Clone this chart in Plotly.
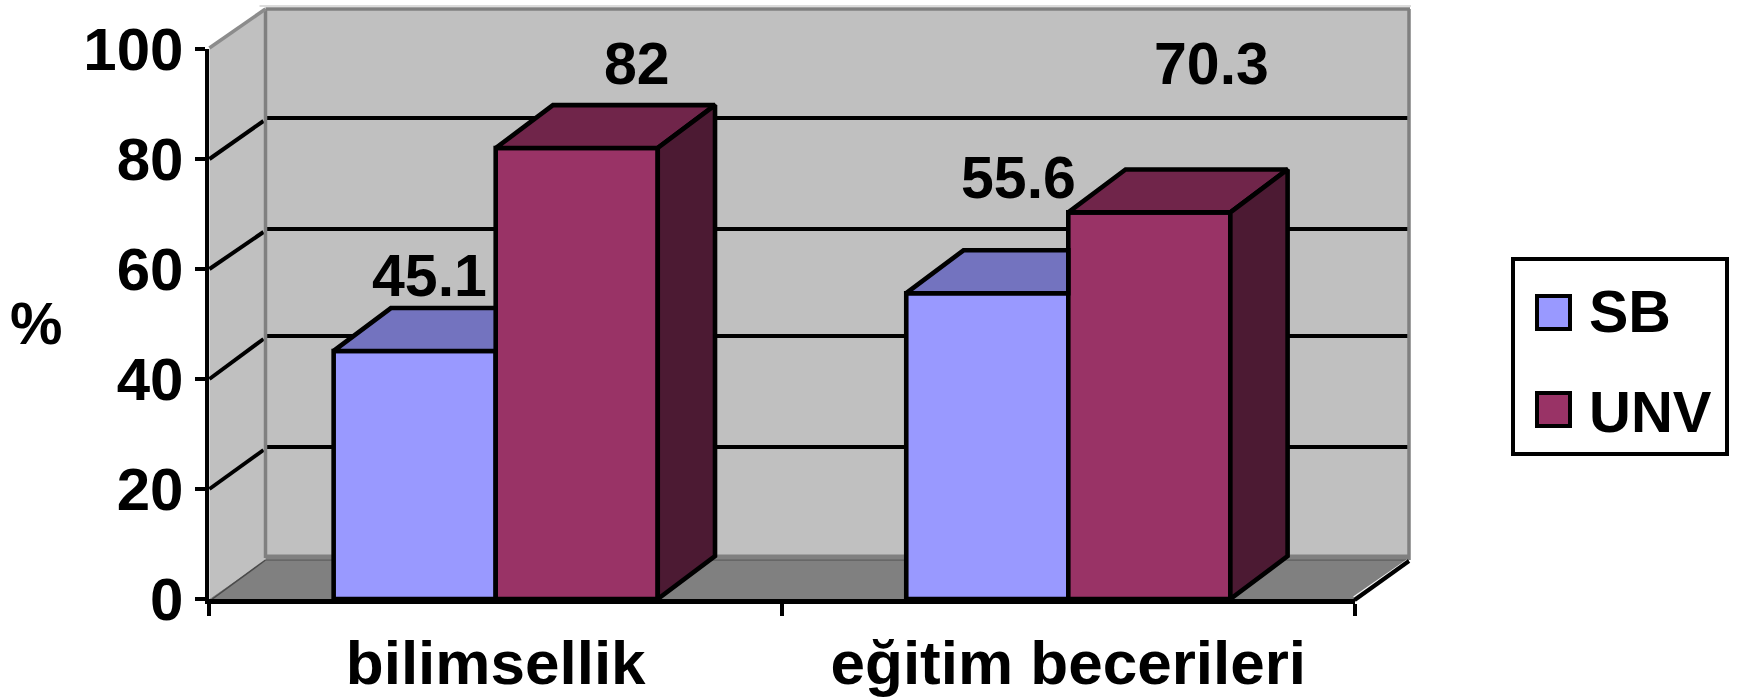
import plotly.graph_objects as go

# Survey scores per category
categories = ["bilimsellik", "eğitim becerileri"]
sb_values = [45.1, 55.6]
unv_values = [82, 70.3]
series_names = ["SB", "UNV"]
y_ticks = [0, 20, 40, 60, 80, 100]

W, H = 1738, 698
FONT = "Liberation Sans"
INK = "#000000"

# Front plane of the box, in page pixels
AX_L, AX_R, AX_T, AX_B = 209.4, 1354.6, 49.0, 599.0
# Back wall of the box, in page pixels
BK_L, BK_R, BK_T, BK_B = 265.5, 1409.0, 9.0, 560.0
BACK_GRID = {20: 447, 40: 336, 60: 229, 80: 118}

BAR_W = 0.283
DEPTH_X = 0.1     # bar depth along x, axis units
DEPTH_Y = 7.8     # bar depth along y, axis units
EDGE = 4.6        # outline of the bar faces


def px(x):
    return x / W


def py(y):
    return 1 - y / H


def page_poly(points, fill, line=None, width=0):
    path = "M " + " L ".join(f"{px(x):.5f},{py(y):.5f}" for x, y in points) + " Z"
    return dict(type="path", xref="paper", yref="paper", path=path, fillcolor=fill,
                line=dict(color=line or fill, width=width), layer="below")


def page_line(x0, y0, x1, y1, color, width):
    return dict(type="line", xref="paper", yref="paper", x0=px(x0), y0=py(y0),
                x1=px(x1), y1=py(y1), line=dict(color=color, width=width), layer="below")


shapes = [
    # back wall and side wall
    page_poly([(BK_L, BK_T), (BK_R, BK_T), (BK_R, BK_B), (BK_L, BK_B)], "#C0C0C0"),
    page_poly([(AX_L, AX_T), (BK_L, BK_T), (BK_L, BK_B), (AX_L, AX_B)], "#C0C0C0"),
    # floor
    page_poly([(AX_L, AX_B), (AX_R, AX_B), (BK_R, BK_B), (BK_L, BK_B)], "#808080"),
    page_line(BK_L, BK_B - 3, BK_R, BK_B - 3, "#808080", 5),
    page_line(BK_L, BK_B, BK_R, BK_B, "#5F5F5F", 1.5),
    page_line(AX_L + 3, AX_B, BK_L, BK_B, "#4A4A4A", 1.5),
]
# gridlines across the back wall and their run along the side wall
for tick, back_y in BACK_GRID.items():
    front_y = AX_B - (AX_B - AX_T) * tick / 100
    shapes.append(page_line(BK_L, back_y, BK_R, back_y, INK, 4))
    shapes.append(page_line(AX_L, front_y, BK_L - 2, back_y + 3, INK, 4))
# wall edges
shapes += [
    page_line(BK_L - 6, 6, BK_R + 2, 6, "#DCDCDC", 2),
    page_line(BK_L, BK_T, BK_R + 1, BK_T, "#808080", 3.5),
    page_line(BK_L, BK_T, BK_L, BK_B - 2, "#808080", 3.5),
    page_line(BK_R, BK_T, BK_R, BK_B, "#808080", 3.5),
    page_line(AX_L, AX_T - 1, BK_L, BK_T, "#8C8C8C", 3.5),
    page_line(AX_R - 1, AX_B - 2, BK_R - 2, BK_B, "#F0F0F0", 1.5),
    page_line(AX_R, AX_B + 1, BK_R, BK_B + 1, INK, 4),
]

# legend frame and swatches
shapes.append(dict(type="rect", xref="paper", yref="paper", x0=px(1513), x1=px(1727),
                   y0=py(454), y1=py(259), fillcolor="#FFFFFF",
                   line=dict(color=INK, width=4), layer="above"))
shapes.append(dict(type="rect", xref="paper", yref="paper", x0=px(1537), x1=px(1570),
                   y0=py(329), y1=py(296), fillcolor="#9999FF",
                   line=dict(color=INK, width=4), layer="above"))
shapes.append(dict(type="rect", xref="paper", yref="paper", x0=px(1537), x1=px(1570),
                   y0=py(426), y1=py(393), fillcolor="#993366",
                   line=dict(color=INK, width=4), layer="above"))

centres = [0.5, 1.5]
fig = go.Figure()

# front faces
fig.add_trace(go.Bar(x=centres, y=sb_values, width=BAR_W, offset=-BAR_W, name=series_names[0],
                     marker=dict(color="#9999FF", line=dict(color=INK, width=EDGE))))
fig.add_trace(go.Bar(x=centres, y=unv_values, width=BAR_W, offset=0, name=series_names[1],
                     marker=dict(color="#993366", line=dict(color=INK, width=EDGE))))


def face(xs, ys, fill):
    fig.add_trace(go.Scatter(x=xs + xs[:1], y=ys + ys[:1], mode="lines", fill="toself",
                             fillcolor=fill, line=dict(color=INK, width=EDGE),
                             hoverinfo="skip", showlegend=False))


for c, sb, unv in zip(centres, sb_values, unv_values):
    # SB top stops where the taller UNV bar hides it
    left = c - BAR_W
    face([left, c, c, left + DEPTH_X], [sb, sb, sb + DEPTH_Y, sb + DEPTH_Y], "#7373BF")
    # UNV top and side
    right = c + BAR_W
    face([c, right, right + DEPTH_X, c + DEPTH_X], [unv, unv, unv + DEPTH_Y, unv + DEPTH_Y], "#70254A")
    face([right, right + DEPTH_X, right + DEPTH_X, right], [0, DEPTH_Y, unv + DEPTH_Y, unv], "#4C1A33")


def label(text, x, y, size=59, anchor="center"):
    return dict(text=text, xref="paper", yref="paper", x=px(x), y=py(y), showarrow=False,
                xanchor=anchor, yanchor="middle",
                font=dict(family=FONT, size=size, color=INK, weight=700))


# value labels sit where they fit around the bars
label_spots = [(429, 276), (1018, 178), (637, 64), (1211, 64)]
label_values = sb_values + unv_values
annotations = [label(str(v), *spot) for v, spot in zip(label_values, label_spots)]
annotations.append(label("%", 36, 324, 59))
annotations.append(label(series_names[0], 1587, 312, 59, "left"))
annotations.append(label(series_names[1], 1587, 411, 58, "left"))

fig.update_layout(
    width=W, height=H, margin=dict(l=0, r=0, t=0, b=0), autosize=False,
    paper_bgcolor="#FFFFFF", plot_bgcolor="rgba(0,0,0,0)",
    barmode="overlay", showlegend=False, shapes=shapes, annotations=annotations,
    xaxis=dict(domain=[px(AX_L), px(AX_R)], range=[0, 2], type="linear", automargin=False,
               tickmode="array", tickvals=centres, ticktext=categories, ticks="",
               showgrid=False, zeroline=False, showline=True, linecolor=INK, linewidth=5,
               ticklabelstandoff=6,
               tickfont=dict(family=FONT, size=62, color=INK, weight=700),
               minor=dict(tickmode="array", tickvals=[0, 1, 2], ticks="outside",
                          ticklen=12, tickwidth=4, tickcolor=INK, showgrid=False)),
    yaxis=dict(domain=[py(AX_B), py(AX_T)], range=[0, 100], tickmode="array", tickvals=y_ticks,
               ticks="outside", ticklen=10, tickwidth=4, tickcolor=INK, automargin=False,
               showgrid=False, zeroline=False, showline=True, linecolor=INK, linewidth=4,
               ticklabelstandoff=0,
               tickfont=dict(family=FONT, size=60, color=INK, weight=700)),
)

fig.write_html("out.html", config=dict(displayModeBar=False))
